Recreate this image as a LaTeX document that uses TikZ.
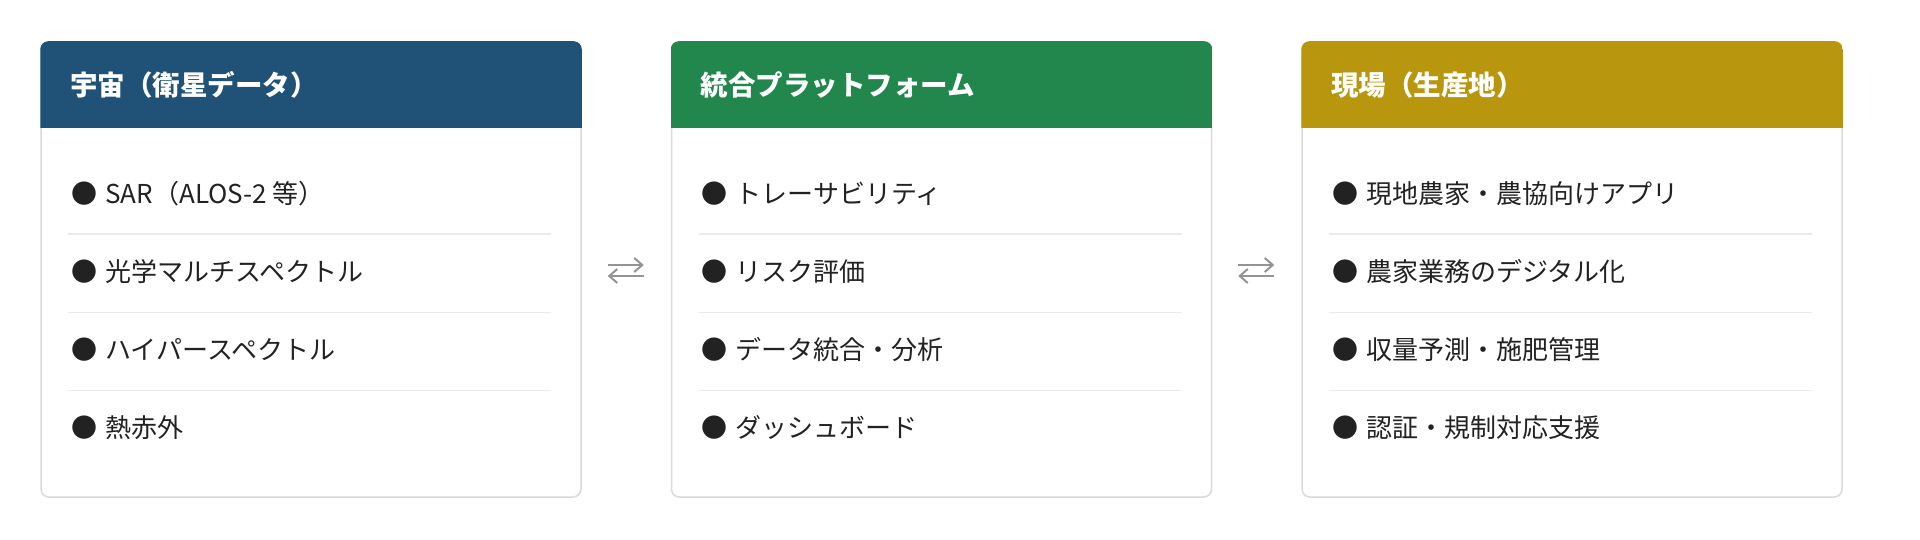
\documentclass[tikz,border=0pt]{standalone}
\usepackage{fontspec}
\setmainfont{Noto Sans CJK JP}
\usetikzlibrary{positioning,arrows.meta}

\definecolor{spaceblue}{HTML}{1F5276}
\definecolor{platgreen}{HTML}{22874C}
\definecolor{fieldgold}{HTML}{B8960E}
\definecolor{cardline}{HTML}{DADADA}
\definecolor{rowline}{HTML}{EBEBEB}
\definecolor{ink}{HTML}{222222}

\begin{document}
\begin{tikzpicture}[x=1pt,y=-1pt,
        card/.style={draw=cardline,line width=1.5pt,fill=white,rounded corners=8pt,minimum width=540pt,minimum height=455pt,inner sep=0pt},
        title/.style={white,font=\fontsize{27.5}{32}\selectfont\bfseries,anchor=west,inner sep=0pt},
        item/.style={ink,font=\fontsize{26}{30}\selectfont,anchor=west,inner sep=0pt},
        swap/.style={draw=black!42,line width=2pt,-{Straight Barb[length=8pt,width=14pt]}}]
    \useasboundingbox (0,0) rectangle (1920,540);

    \node[card] (space) at (311,269.5) {};
    \node[card,right=89pt of space] (plat) {};
    \node[card,right=89pt of plat] (field) {};

    \foreach \c/\col/\t in {space/spaceblue/宇宙（衛星データ）,plat/platgreen/統合プラットフォーム,field/fieldgold/現場（生産地）} {
        \begin{scope}
            \clip[rounded corners=8pt] (\c.north west) rectangle (\c.south east);
            \fill[\col] (\c.north west) rectangle ([yshift=-87pt]\c.north east);
        \end{scope}
        \node[title] at ([xshift=30pt,yshift=-43.5pt]\c.north west) {\t};
        \foreach \k in {1,2,3}
            \draw[rowline,line width=1.5pt] ([xshift=28pt,yshift={-193pt-78pt*(\k-1)}]\c.north west) -- ++(483,0);
    }

    \foreach \c/\items in {space/{SAR（ALOS-2 等）,光学マルチスペクトル,ハイパースペクトル,熱赤外},
            plat/{トレーサビリティ,リスク評価,データ統合・分析,ダッシュボード},
            field/{現地農家・農協向けアプリ,農家業務のデジタル化,収量予測・施肥管理,認証・規制対応支援}}
        \foreach \t [count=\i] in \items
            \node[item] (\c-\i) at ([xshift=31pt,yshift={-152pt-78pt*(\i-1)}]\c.north west) {●\hspace{8pt}\t};

    \foreach \u/\v in {space/plat,plat/field} {
        \draw[swap] ([xshift=26pt,yshift=4.5pt]\u.east) -- ([xshift=-27pt,yshift=4.5pt]\v.west);
        \draw[swap] ([xshift=-27pt,yshift=-6.5pt]\v.west) -- ([xshift=26pt,yshift=-6.5pt]\u.east);
    }
\end{tikzpicture}
\end{document}
